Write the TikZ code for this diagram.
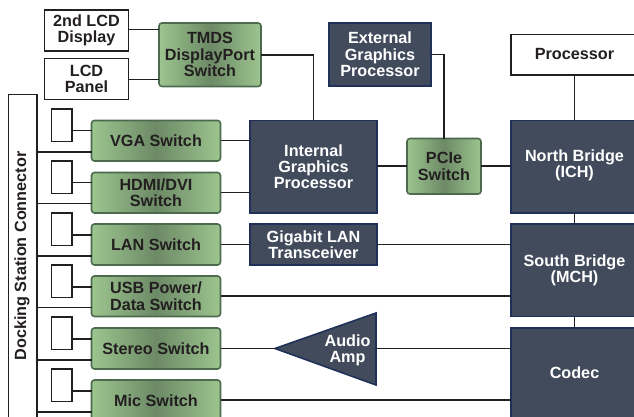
\documentclass[tikz,border=0pt]{standalone}
\usepackage{fontspec}
\setmainfont{Liberation Sans}
\definecolor{greenL}{HTML}{9DC58F}
\definecolor{greenM}{HTML}{6C8A66}
\definecolor{greenB}{HTML}{4C6A4E}
\definecolor{navyF}{HTML}{414B5C}
\definecolor{navyB}{HTML}{1F3158}
\definecolor{ink}{HTML}{231F20}
\newcommand{\boxat}[6]{\node[#1,minimum width=#4-#3,minimum height=#6-#5] (#2) at ({(#3+#4)/2},{(#5+#6)/2})}
\tikzset{
  x=1pt,y=-1pt,
  lbl/.style={font=\fontsize{16.2}{16.4}\selectfont\bfseries,align=center,inner sep=0pt,outer sep=0pt},
  white box/.style={lbl,draw=ink,line width=1.6pt,fill=white,text=ink},
  port/.style={draw=ink,line width=1.4pt,fill=white,inner sep=0pt,outer sep=0pt},
  switch/.style={lbl,draw=greenB,line width=1.6pt,rounded corners=3pt,left color=greenL,right color=greenL,middle color=greenM,text=ink},
  navy/.style={lbl,draw=navyB,line width=1.6pt,fill=navyF,text=white},
  wire/.style={draw=ink,line width=1.6pt},
}
\begin{document}
\begin{tikzpicture}
\useasboundingbox (0,0) rectangle (634,417);
\clip (0,0) rectangle (634,417);
\fill[white] (0,0) rectangle (634,417);
% nodes
\boxat{white box}{lcdb}{44.5}{128.5}{10}{51}{2nd LCD\\Display};
\boxat{white box}{lcdp}{44.5}{128.5}{58.5}{99.5}{LCD\\Panel};
\boxat{switch}{tmds}{159}{261}{23}{86.5}{TMDS\\DisplayPort\\Switch};
\boxat{white box}{dock}{8.5}{37}{94.5}{440}{};
\node[lbl,rotate=90,text=ink] (docklabel) at (22,256) {Docking Station Connector};
\boxat{port}{pa}{51.5}{72}{109}{141.5}{};
\boxat{port}{pb}{51.5}{72}{161}{193.5}{};
\boxat{port}{pc}{51.5}{72}{213}{245.5}{};
\boxat{port}{pd}{51.5}{72}{265}{297.5}{};
\boxat{port}{pe}{51.5}{72}{317}{349.5}{};
\boxat{port}{pf}{51.5}{72}{369}{401.5}{};
\boxat{switch}{vga}{91.5}{220.5}{120.5}{161}{VGA Switch};
\boxat{switch}{hdmi}{91.5}{220.5}{172.5}{213}{HDMI/DVI\\Switch};
\boxat{switch}{lan}{91.5}{220.5}{224}{265}{LAN Switch};
\boxat{switch}{usb}{91.5}{220.5}{276}{316.5}{USB Power/\\Data Switch};
\boxat{switch}{stereo}{91.5}{220.5}{328}{369}{Stereo Switch};
\boxat{switch}{mic}{91.5}{220.5}{380}{421}{Mic Switch};
\boxat{navy}{igp}{250}{377}{120.5}{213}{Internal\\Graphics\\Processor};
\boxat{navy}{gbe}{250}{377}{224}{265}{Gigabit LAN\\Transceiver};
\boxat{navy}{egp}{329}{431}{23}{86}{External\\Graphics\\Processor};
\boxat{switch}{pcie}{407}{481}{138.5}{194}{PCIe\\Switch};
\boxat{white box}{cpu}{511}{638}{34.5}{75}{};
\node[lbl,text=ink] (cpulabel) at (574.5,54.5) {Processor};
\boxat{navy}{nb}{511}{638}{120.5}{213}{};
\node[lbl,text=white] (nblabel) at (574.5,165.5) {North Bridge\\(ICH)};
\boxat{navy}{sb}{511}{638}{224}{316.5}{};
\node[lbl,text=white] (sblabel) at (574.5,270.5) {South Bridge\\(MCH)};
\boxat{navy}{codec}{511}{638}{328}{440}{};
\node[lbl,text=white] (codeclabel) at (574.5,372.5) {Codec};
\coordinate (apex) at (275,348.5);
\coordinate (ampt) at (376,313);
\coordinate (ampb) at (376,385);
\coordinate (ampr) at (376,348.5);
\filldraw[draw=navyB,fill=navyF,line width=1.6pt,line join=miter] (apex) -- (ampt) -- (ampb) -- cycle;
\node[lbl,text=white] (amp) at (347.5,350.5) {Audio\\Amp};
% connectors
\draw[wire] (lcdb.east|-0,29.5) -- (tmds.west|-0,29.5);
\draw[wire] (lcdp.east|-0,79.5) -- (tmds.west|-0,79.5);
\draw[wire] (tmds.east) -| (igp.north);
\draw[wire] (egp.east) -| (pcie.north);
\draw[wire] (igp.east|-pcie.west) -- (pcie.west);
\draw[wire] (pcie.east) -- (nb.west|-pcie.east);
\draw[wire] (cpu.south-|nblabel.center) -- (nb.north-|nblabel.center);
\draw[wire] (nb.south-|nblabel.center) -- (sb.north-|nblabel.center);
\draw[wire] (sb.south-|nblabel.center) -- (codec.north-|nblabel.center);
\foreach \p/\s/\yy/\yd in {pa/vga/130.5/152,pb/hdmi/182.5/203.5,pc/lan/235/256,pd/usb/287/307.5,pe/stereo/339/360,pf/mic/391/412}{
  \draw[wire] (\p.east|-0,\yy) -- (\s.west|-0,\yy);
  \draw[wire] (dock.east|-0,\yd) -- (\s.west|-0,\yd);
}
\draw[wire] (vga.east|-0,140.5) -- (igp.west|-0,140.5);
\draw[wire] (hdmi.east|-0,192.5) -- (igp.west|-0,192.5);
\draw[wire] (lan.east|-0,244.5) -- (gbe.west|-0,244.5);
\draw[wire] (gbe.east|-0,244.5) -- (sb.west|-0,244.5);
\draw[wire] (usb.east|-0,296) -- (sb.west|-0,296);
\draw[wire] (stereo.east|-0,348.5) -- (apex);
\draw[wire] (ampr) -- (codec.west|-ampr);
\draw[wire] (mic.east|-0,400) -- (codec.west|-0,400);
\end{tikzpicture}
\end{document}
